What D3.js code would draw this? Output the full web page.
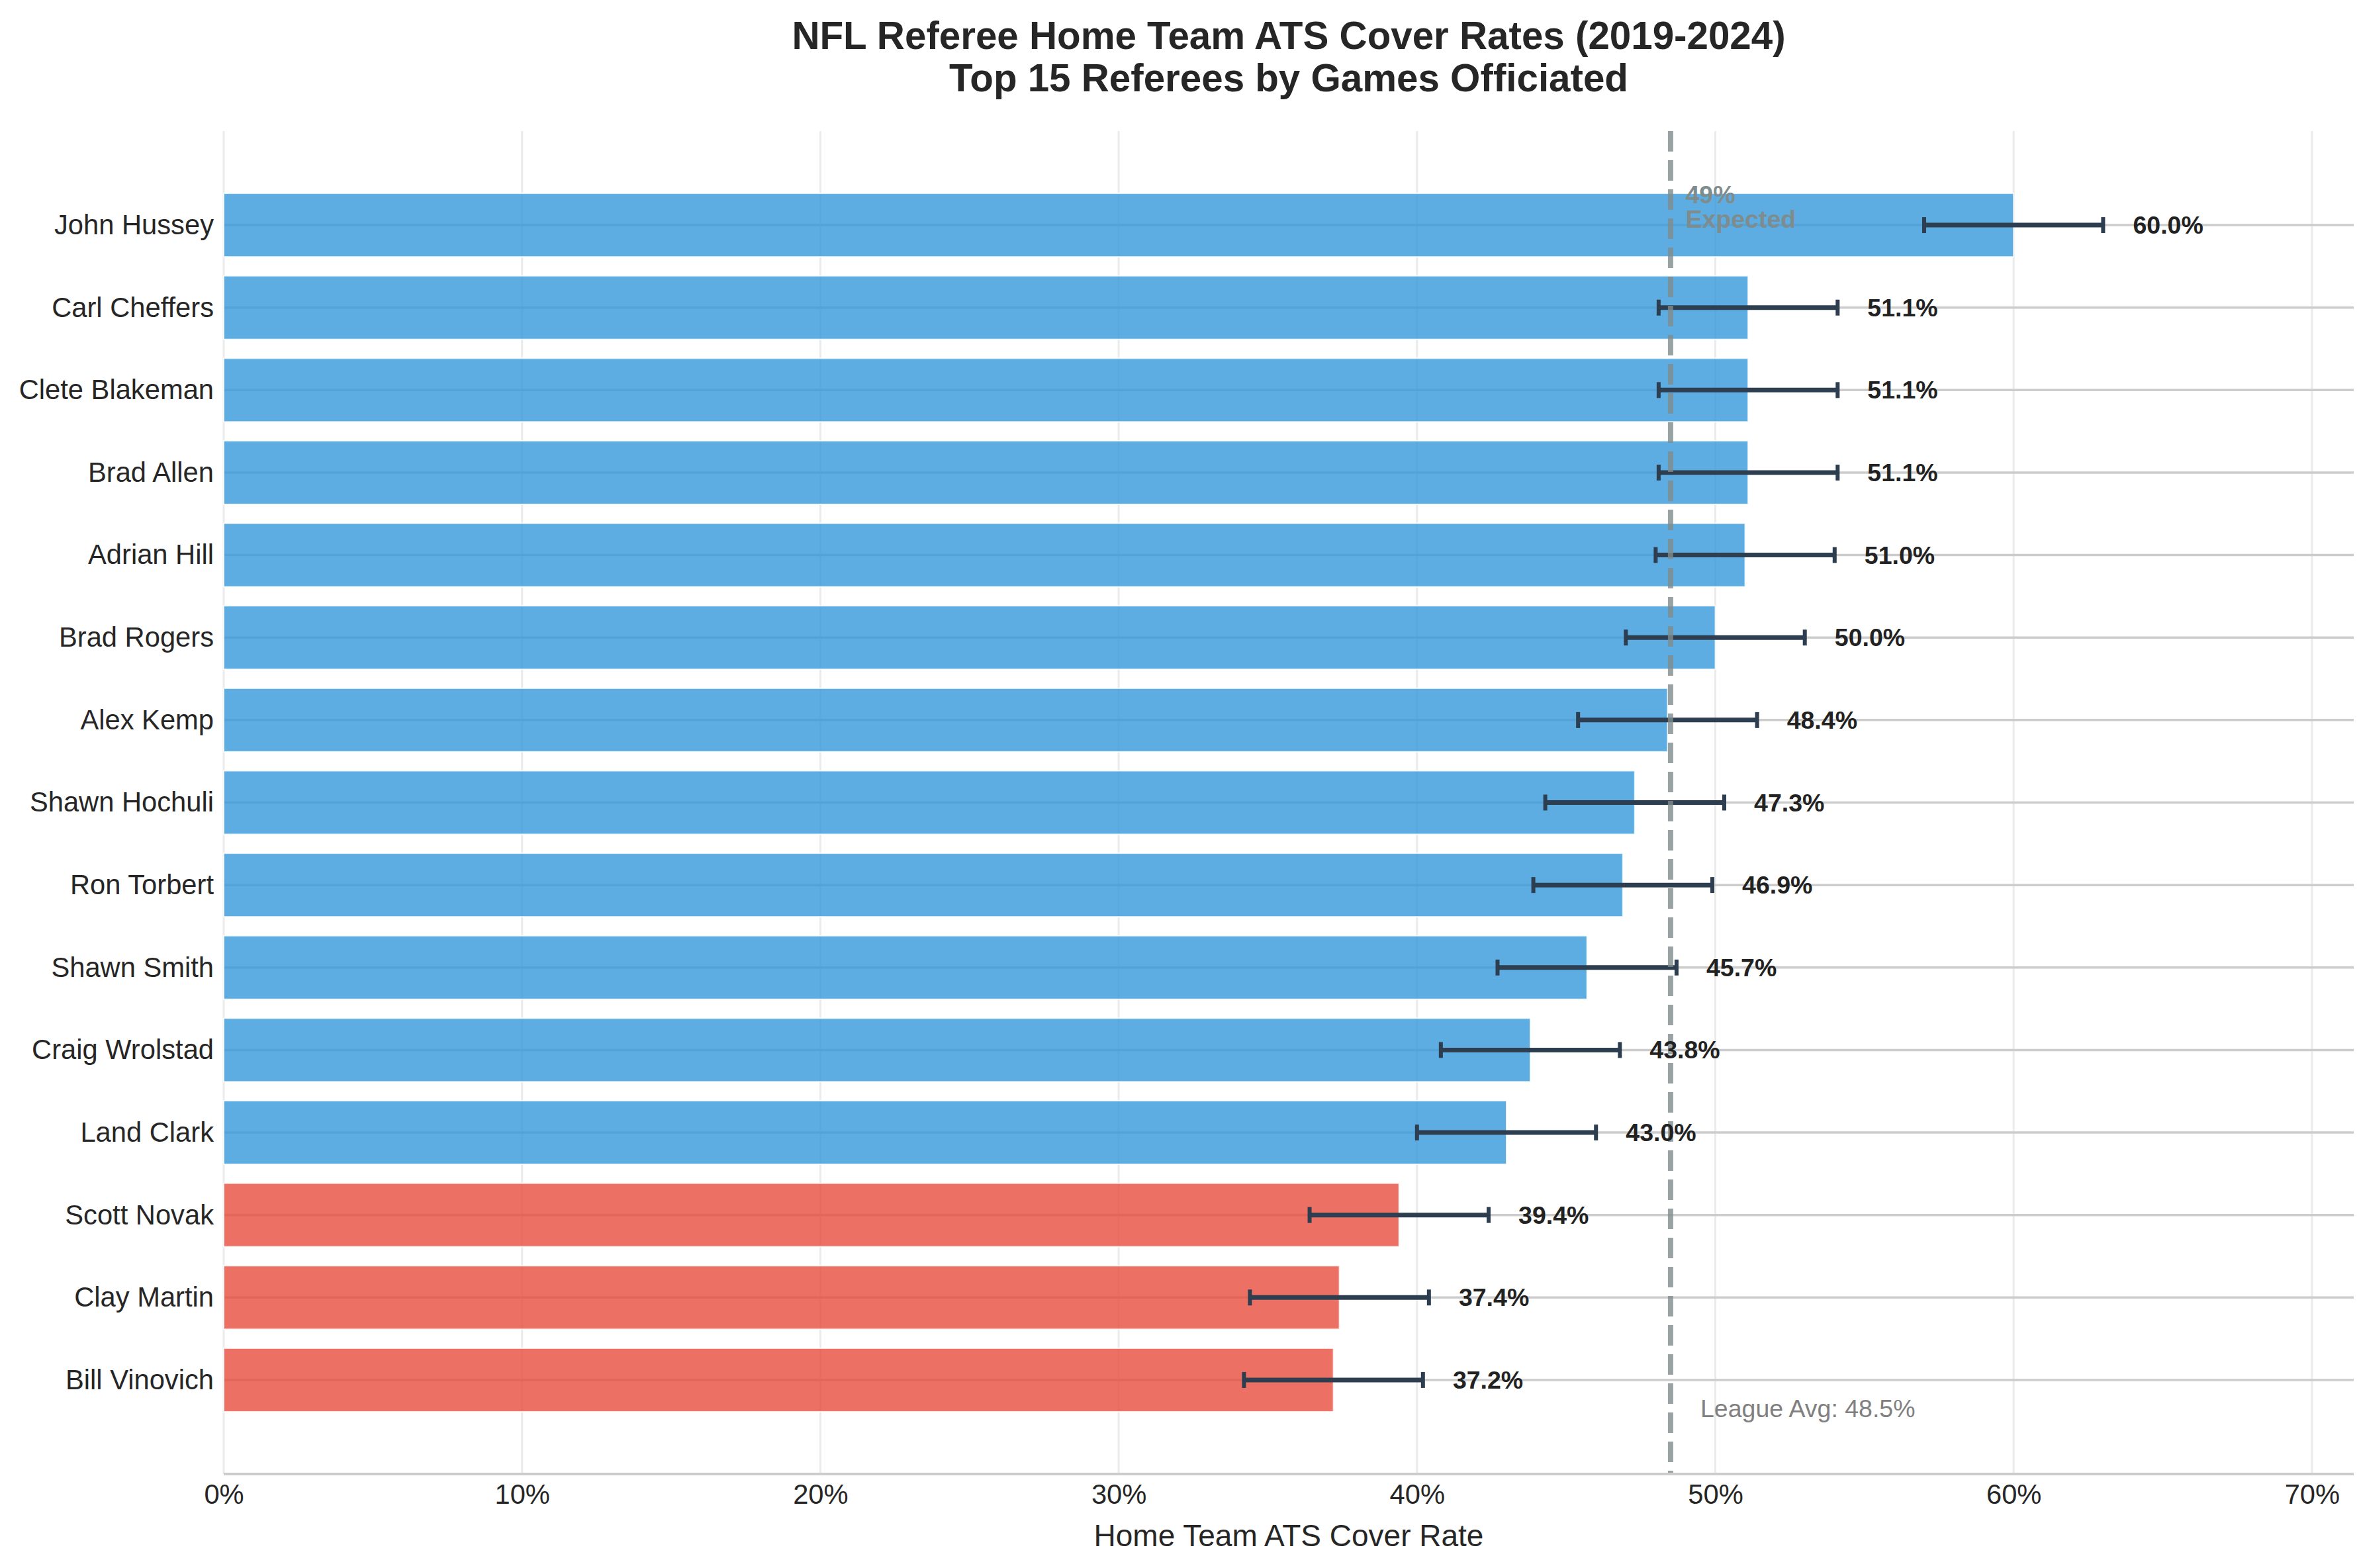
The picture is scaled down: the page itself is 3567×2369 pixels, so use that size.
<!DOCTYPE html>
<html>
<head>
<meta charset="utf-8">
<script src="https://cdn.jsdelivr.net/npm/d3@7"></script>
<style>
  body { margin: 0; background: #fff; }
  text { font-family: "Liberation Sans", Arial, sans-serif; }
</style>
</head>
<body>
<svg id="chart"></svg>
<script>
const referees = ["John Hussey", "Carl Cheffers", "Clete Blakeman", "Brad Allen", "Adrian Hill",
    "Brad Rogers", "Alex Kemp", "Shawn Hochuli", "Ron Torbert", "Shawn Smith",
    "Craig Wrolstad", "Land Clark", "Scott Novak", "Clay Martin", "Bill Vinovich"];
const coverRates = [0.600, 0.511, 0.511, 0.511, 0.510, 0.500, 0.484, 0.473, 0.469, 0.457,
    0.438, 0.430, 0.394, 0.374, 0.372];
const errors = [0.03, 0.03, 0.03, 0.03, 0.03, 0.03, 0.03, 0.03, 0.03, 0.03,
    0.03, 0.03, 0.03, 0.03, 0.03];
const xTicks = [0, 0.1, 0.2, 0.3, 0.4, 0.5, 0.6, 0.7];
const leagueAvg = 0.485;
const expected = 0.49;

const W = 3567, H = 2369;
const plotLeft = 338, plotRight = 3556, plotTop = 198, plotBottom = 2227;

const svg = d3.select("#chart").attr("width", W).attr("height", H);

const x = d3.scaleLinear().domain([0, 0.714]).range([plotLeft, plotRight]);
const y = d3.scaleLinear().domain([-1.14, 15.14]).range([plotTop, plotBottom]);
const barH = (y(1) - y(0)) * 0.77;

// vertical grid
svg.append("g").selectAll("line")
    .data(xTicks)
    .enter().append("line")
    .attr("x1", d => x(d)).attr("x2", d => x(d))
    .attr("y1", plotTop).attr("y2", plotBottom)
    .attr("stroke", "#ebebeb").attr("stroke-width", 3);

// horizontal grid
svg.append("g").selectAll("line")
    .data(referees)
    .enter().append("line")
    .attr("x1", plotLeft).attr("x2", plotRight)
    .attr("y1", (d, i) => y(i)).attr("y2", (d, i) => y(i))
    .attr("stroke", "#cccccc").attr("stroke-width", 3.5);

// bars
svg.append("g").selectAll("rect")
    .data(coverRates)
    .enter().append("rect")
    .attr("x", x(0))
    .attr("y", (d, i) => y(i) - barH / 2)
    .attr("width", d => x(d) - x(0))
    .attr("height", barH)
    .attr("fill", d => d < 0.4 ? "#e74c3c" : "#3498db")
    .attr("fill-opacity", 0.8)
    .attr("stroke", "white")
    .attr("stroke-opacity", 0.8)
    .attr("stroke-width", 2);

// error bars
const eb = svg.append("g").selectAll("g")
    .data(coverRates)
    .enter().append("g")
    .attr("stroke", "#2c3e50");
eb.append("line")
    .attr("x1", (d, i) => x(d - errors[i])).attr("x2", (d, i) => x(d + errors[i]))
    .attr("y1", (d, i) => y(i)).attr("y2", (d, i) => y(i))
    .attr("stroke-width", 7);
eb.append("line")
    .attr("x1", (d, i) => x(d - errors[i])).attr("x2", (d, i) => x(d - errors[i]))
    .attr("y1", (d, i) => y(i) - 12).attr("y2", (d, i) => y(i) + 12)
    .attr("stroke-width", 6);
eb.append("line")
    .attr("x1", (d, i) => x(d + errors[i])).attr("x2", (d, i) => x(d + errors[i]))
    .attr("y1", (d, i) => y(i) - 12).attr("y2", (d, i) => y(i) + 12)
    .attr("stroke-width", 6);

// league average line
svg.append("line")
    .attr("x1", x(leagueAvg)).attr("x2", x(leagueAvg))
    .attr("y1", plotTop).attr("y2", plotBottom)
    .attr("stroke", "#7f8c8d").attr("stroke-opacity", 0.8)
    .attr("stroke-width", 8)
    .attr("stroke-dasharray", "31 13");

// value labels
svg.append("g").selectAll("text")
    .data(coverRates)
    .enter().append("text")
    .attr("x", (d, i) => x(d + errors[i] + 0.01))
    .attr("y", (d, i) => y(i))
    .attr("dominant-baseline", "central")
    .attr("font-size", 37.5)
    .attr("font-weight", "bold")
    .attr("fill", "#222")
    .text(d => (d * 100).toFixed(1) + "%");

// annotations
const exp = svg.append("text")
    .attr("x", x(expected))
    .attr("y", y(0) + 4)
    .attr("font-size", 37.5)
    .attr("font-weight", "bold")
    .attr("fill", "#7f8c8d");
exp.append("tspan").attr("x", x(expected)).attr("dy", -37).text(d3.format(".0%")(expected));
exp.append("tspan").attr("x", x(expected)).attr("dy", 37).text("Expected");

svg.append("text")
    .attr("x", x(leagueAvg + 0.01))
    .attr("y", y(14.45))
    .attr("font-size", 37.5)
    .attr("fill", "#808080")
    .text("League Avg: " + d3.format(".1%")(leagueAvg));

// axes
const yAxis = svg.append("g")
    .attr("transform", `translate(${plotLeft},0)`)
    .call(d3.axisLeft(y).tickValues(d3.range(referees.length)).tickFormat(i => referees[i]).tickSize(0).tickPadding(15));
yAxis.select(".domain").remove();
yAxis.selectAll("text")
    .attr("font-size", 41.7)
    .attr("font-family", "Liberation Sans, Arial, sans-serif")
    .attr("fill", "#262626");

const xAxis = svg.append("g")
    .attr("transform", `translate(0,${plotBottom})`)
    .call(d3.axisBottom(x).tickValues(xTicks).tickFormat(d3.format(".0%")).tickSize(0).tickPadding(15));
xAxis.select(".domain").remove();
xAxis.selectAll("text")
    .attr("font-size", 41.7)
    .attr("font-family", "Liberation Sans, Arial, sans-serif")
    .attr("fill", "#262626");

svg.append("line")
    .attr("x1", plotLeft).attr("x2", plotRight)
    .attr("y1", plotBottom).attr("y2", plotBottom)
    .attr("stroke", "#cccccc").attr("stroke-width", 4);

svg.append("text")
    .attr("x", (plotLeft + plotRight) / 2)
    .attr("y", 2336)
    .attr("text-anchor", "middle")
    .attr("font-size", 46)
    .attr("fill", "#262626")
    .text("Home Team ATS Cover Rate");

// title
const title = svg.append("text")
    .attr("x", (plotLeft + plotRight) / 2)
    .attr("text-anchor", "middle")
    .attr("font-size", 58.3)
    .attr("font-weight", "bold")
    .attr("fill", "#262626");
title.append("tspan").attr("x", (plotLeft + plotRight) / 2).attr("y", 74).text("NFL Referee Home Team ATS Cover Rates (2019-2024)");
title.append("tspan").attr("x", (plotLeft + plotRight) / 2).attr("y", 138).text("Top 15 Referees by Games Officiated");
</script>
</body>
</html>
